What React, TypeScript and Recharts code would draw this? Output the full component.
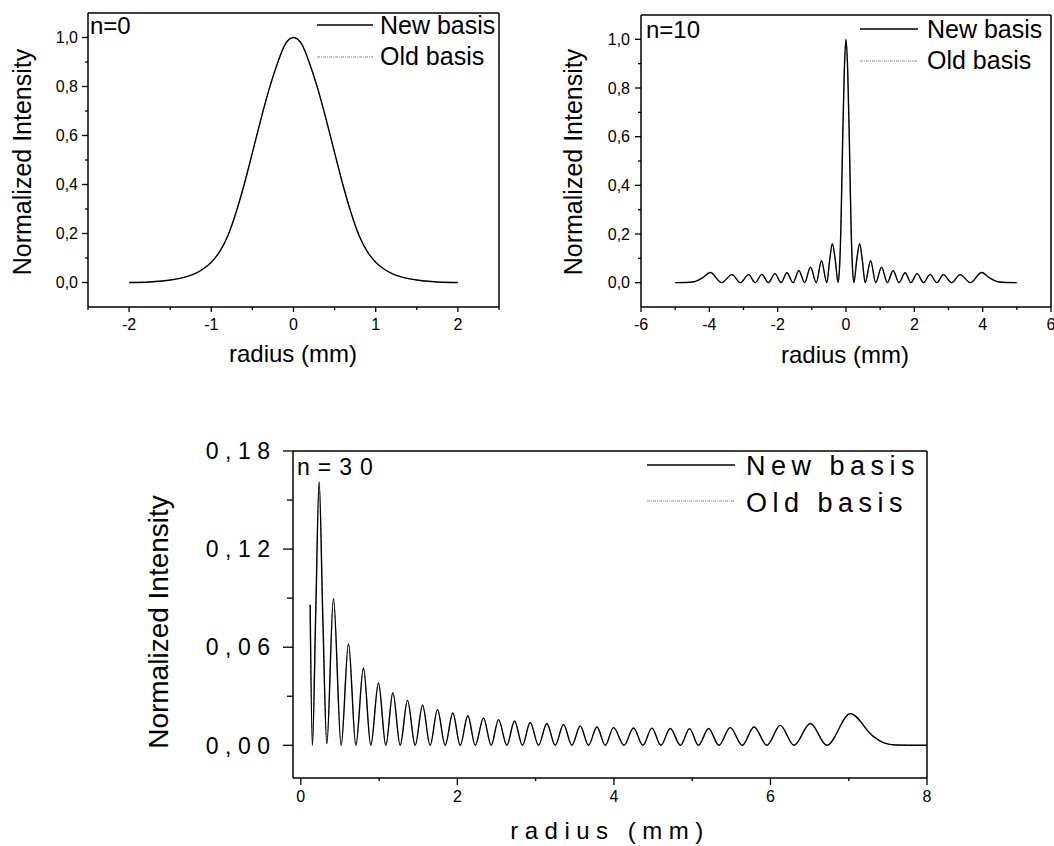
import { LineChart, Line, XAxis, YAxis, Legend, Label, ReferenceLine } from 'recharts';

const FONT = 'Arial, "Liberation Sans", Helvetica, sans-serif';

// n=0 : single bell-shaped peak
const radius0 = [-2, -1.75, -1.6, -1.5, -1.4, -1.3, -1.2, -1.1, -1.0, -0.9, -0.8, -0.7, -0.6, -0.5, -0.4, -0.3, -0.2, -0.1, 0, 0.1, 0.2, 0.3, 0.4, 0.5, 0.6, 0.7, 0.8, 0.9, 1.0, 1.1, 1.2, 1.3, 1.4, 1.5, 1.6, 1.75, 2];
const newBasis0 = [0, 0.002, 0.006, 0.01, 0.016, 0.024, 0.036, 0.055, 0.083, 0.125, 0.19, 0.285, 0.4, 0.53, 0.662, 0.785, 0.89, 0.973, 1.0, 0.973, 0.89, 0.785, 0.662, 0.53, 0.4, 0.285, 0.19, 0.125, 0.083, 0.055, 0.036, 0.024, 0.016, 0.01, 0.006, 0.002, 0];
const oldBasis0 = newBasis0; // the two curves coincide

// n=10 : peaks and zeros
const radius10 = [-5, -4.7, -4.45, -4.2, -3.97, -3.64, -3.34, -3.09, -2.85, -2.66, -2.46, -2.27, -2.08, -1.9, -1.73, -1.55, -1.38, -1.21, -1.04, -0.87, -0.72, -0.56, -0.48, -0.4, -0.32, -0.23, -0.19, -0.15, -0.1, -0.05, 0, 0.05, 0.1, 0.15, 0.19, 0.23, 0.32, 0.4, 0.48, 0.56, 0.72, 0.87, 1.04, 1.21, 1.38, 1.55, 1.73, 1.9, 2.08, 2.27, 2.46, 2.66, 2.85, 3.09, 3.34, 3.64, 3.97, 4.2, 4.45, 4.7, 5];
const newBasis10 = [0, 0.0005, 0.004, 0.02, 0.042, 0, 0.033, 0, 0.033, 0, 0.034, 0, 0.037, 0, 0.041, 0, 0.05, 0, 0.064, 0, 0.09, 0, 0.09, 0.16, 0.1, 0, 0.06, 0.22, 0.57, 0.87, 1.0, 0.87, 0.57, 0.22, 0.06, 0, 0.1, 0.16, 0.09, 0, 0.09, 0, 0.064, 0, 0.05, 0, 0.041, 0, 0.037, 0, 0.034, 0, 0.033, 0, 0.033, 0, 0.042, 0.02, 0.004, 0.0005, 0];
const oldBasis10 = newBasis10;

// n=30
const radius30 = [0.119, 0.148, 0.19, 0.234, 0.28, 0.332, 0.417, 0.515, 0.609, 0.703, 0.8, 0.894, 0.992, 1.086, 1.176, 1.269, 1.363, 1.461, 1.555, 1.652, 1.746, 1.844, 1.942, 2.036, 2.134, 2.228, 2.334, 2.432, 2.526, 2.632, 2.73, 2.832, 2.93, 3.037, 3.143, 3.25, 3.356, 3.463, 3.57, 3.675, 3.783, 3.889, 3.995, 4.13, 4.25, 4.37, 4.486, 4.6, 4.72, 4.85, 4.966, 5.08, 5.21, 5.34, 5.486, 5.64, 5.79, 5.955, 6.125, 6.3, 6.51, 6.72, 7.02, 7.3, 7.45, 7.6, 8.0];
const newBasis30 = [0.086, 0, 0.08, 0.161, 0.08, 0.001, 0.0897, 0, 0.0622, 0, 0.0473, 0, 0.0381, 0, 0.0322, 0, 0.0275, 0, 0.0245, 0, 0.0218, 0, 0.0198, 0, 0.0181, 0, 0.0167, 0, 0.0157, 0, 0.0149, 0, 0.0139, 0, 0.0133, 0, 0.0127, 0, 0.0118, 0, 0.0112, 0, 0.0108, 0, 0.0106, 0, 0.0105, 0, 0.0103, 0, 0.0102, 0, 0.0103, 0, 0.0108, 0, 0.0112, 0, 0.0122, 0, 0.0133, 0, 0.0194, 0.006, 0.0015, 0.0002, 0];
const oldBasis30 = newBasis30;

// ticks
const xMajor0 = [-2, -1, 0, 1, 2];
const xMinor0 = [-2.5, -1.5, -0.5, 0.5, 1.5, 2.5];
const xMajor10 = [-6, -4, -2, 0, 2, 4, 6];
const xMinor10 = [-5, -3, -1, 1, 3, 5];
const yMajorTop = [0, 0.2, 0.4, 0.6, 0.8, 1.0];
const yMinorTop = [0.1, 0.3, 0.5, 0.7, 0.9];
const xMajor30 = [0, 2, 4, 6, 8];
const xMinor30 = [1, 3, 5, 7];
const yMajor30 = [0, 0.06, 0.12, 0.18];
const yMinor30 = [0.03, 0.09, 0.15];

const isIn = (arr: number[], v: number) => arr.some((m) => Math.abs(m - v) < 1e-6);

type TickStyle = {
  major: number[];
  fmt: (v: number) => string;
  gap: number;
  majorLen: number;
  minorLen: number;
  fontSize: number;
  spacing?: number;
};

function leftTick(o: TickStyle) {
  return (props: any) => {
    const { x, y, payload } = props;
    const axisX = x + o.gap;
    const major = isIn(o.major, payload.value);
    return (
      <g>
        <line x1={axisX - (major ? o.majorLen : o.minorLen)} x2={axisX} y1={y} y2={y} stroke="#000" strokeWidth={1.3} />
        {major && (
          <text x={x + (o.spacing ?? 0)} y={y} dy="0.36em" textAnchor="end" fontSize={o.fontSize} letterSpacing={o.spacing ?? 0} fill="#000" fontFamily={FONT}>
            {o.fmt(payload.value)}
          </text>
        )}
      </g>
    );
  };
}

function bottomTick(o: TickStyle) {
  return (props: any) => {
    const { x, y, payload } = props;
    const axisY = y - o.gap;
    const major = isIn(o.major, payload.value);
    return (
      <g>
        <line x1={x} x2={x} y1={axisY} y2={axisY + (major ? o.majorLen : o.minorLen)} stroke="#000" strokeWidth={1.3} />
        {major && (
          <text x={x} y={y} dy="0.71em" textAnchor="middle" fontSize={o.fontSize} fill="#000" fontFamily={FONT}>
            {o.fmt(payload.value)}
          </text>
        )}
      </g>
    );
  };
}

type TextPos = { x: number; y: number; size: number; spacing?: number };

type PanelProps = {
  left: number;
  top: number;
  width: number;
  height: number;
  marginTop: number;
  marginRight: number;
  yAxisWidth: number;
  xAxisHeight: number;
  radius: number[];
  newBasis: number[];
  oldBasis: number[];
  xDomain: [number, number];
  yDomain: [number, number];
  xMajor: number[];
  xMinor: number[];
  yMajor: number[];
  yMinor: number[];
  xTick: TickStyle;
  yTick: TickStyle;
  yTitle: TextPos;
  xTitle: TextPos;
  tag: string;
  tagPos: TextPos;
  legendLine: [number, number];
  legendRows: number[];
  legendText: TextPos;
  legendBaselines: number[];
};

function Panel(p: PanelProps) {
  const data = p.radius.map((r, i) => ({ r, newBasis: p.newBasis[i], oldBasis: p.oldBasis[i] }));
  const frame = { stroke: '#000', strokeWidth: 1.5 };

  const renderLegend = ({ payload }: any) => {
    const items = [...(payload ?? [])].sort((a: any, b: any) => String(a.value).localeCompare(String(b.value)));
    return (
      <svg width={p.width} height={110} style={{ display: 'block', overflow: 'visible' }}>
        <text x={p.tagPos.x} y={p.tagPos.y} fontSize={p.tagPos.size} letterSpacing={p.tagPos.spacing ?? 0} fontFamily={FONT} fill="#000">
          {p.tag}
        </text>
        {items.map((it: any, i: number) => (
          <g key={it.value}>
            <line
              x1={p.legendLine[0]}
              x2={p.legendLine[1]}
              y1={p.legendRows[i]}
              y2={p.legendRows[i]}
              stroke={it.color}
              strokeWidth={it.payload?.strokeWidth ?? 1}
              strokeDasharray={it.payload?.strokeDasharray}
            />
            <text x={p.legendText.x} y={p.legendBaselines[i]} fontSize={p.legendText.size} letterSpacing={p.legendText.spacing ?? 0} fontFamily={FONT} fill="#000">
              {it.value}
            </text>
          </g>
        ))}
      </svg>
    );
  };

  return (
    <div style={{ position: 'absolute', left: p.left, top: p.top }}>
      <LineChart width={p.width} height={p.height} data={data} margin={{ top: p.marginTop, right: p.marginRight, bottom: 0, left: 0 }}>
        <XAxis
          dataKey="r"
          type="number"
          domain={p.xDomain}
          allowDataOverflow
          ticks={[...p.xMajor, ...p.xMinor]}
          interval={0}
          height={p.xAxisHeight}
          tickSize={0}
          tickMargin={p.xTick.gap}
          tickLine={false}
          axisLine={frame}
          tick={bottomTick(p.xTick)}
        >
          <Label
            content={() => (
              <text x={p.xTitle.x} y={p.xTitle.y} textAnchor="middle" fontSize={p.xTitle.size} letterSpacing={p.xTitle.spacing ?? 0} fontFamily={FONT} fill="#000">
                radius (mm)
              </text>
            )}
          />
        </XAxis>
        <YAxis
          type="number"
          domain={p.yDomain}
          allowDataOverflow
          ticks={[...p.yMajor, ...p.yMinor]}
          interval={0}
          width={p.yAxisWidth}
          tickSize={0}
          tickMargin={p.yTick.gap}
          tickLine={false}
          axisLine={frame}
          tick={leftTick(p.yTick)}
        >
          <Label
            content={() => (
              <text
                x={p.yTitle.x}
                y={p.yTitle.y}
                transform={`rotate(-90 ${p.yTitle.x} ${p.yTitle.y})`}
                textAnchor="middle"
                dominantBaseline="central"
                fontSize={p.yTitle.size}
                fontFamily={FONT}
                fill="#000"
              >
                Normalized Intensity
              </text>
            )}
          />
        </YAxis>
        {/* closing the box: top and right edges of the frame */}
        <ReferenceLine y={p.yDomain[1]} stroke="#000" strokeWidth={1.5} />
        <ReferenceLine x={p.xDomain[1]} stroke="#000" strokeWidth={1.5} />
        <Legend
          layout="horizontal"
          align="center"
          verticalAlign="middle"
          content={renderLegend}
          wrapperStyle={{ left: 0, top: 0, width: p.width, height: 110, pointerEvents: 'none' }}
        />
        <Line type="monotone" dataKey="oldBasis" name="Old basis" stroke="#8a8a8a" strokeWidth={1} strokeDasharray="3 1 1 1" dot={false} activeDot={false} isAnimationActive={false} />
        <Line type="monotone" dataKey="newBasis" name="New basis" stroke="#000" strokeWidth={1.4} dot={false} activeDot={false} isAnimationActive={false} />
      </LineChart>
    </div>
  );
}

const fmt1 = (v: number) => v.toFixed(1).replace('.', ',');
const fmt2 = (v: number) => v.toFixed(2).replace('.', ',');
const fmtInt = (v: number) => String(v);

export default function App() {
  return (
    <div style={{ position: 'absolute', left: 0, top: 0, width: 1054, height: 846, background: '#fff', fontFamily: FONT }}>
      <Panel
        left={0}
        top={0}
        width={520}
        height={380}
        marginTop={13}
        marginRight={21}
        yAxisWidth={88}
        xAxisHeight={73}
        radius={radius0}
        newBasis={newBasis0}
        oldBasis={oldBasis0}
        xDomain={[-2.5, 2.5]}
        yDomain={[-0.1, 1.1]}
        xMajor={xMajor0}
        xMinor={xMinor0}
        yMajor={yMajorTop}
        yMinor={yMinorTop}
        xTick={{ major: xMajor0, fmt: fmtInt, gap: 12, majorLen: 5, minorLen: 3, fontSize: 16 }}
        yTick={{ major: yMajorTop, fmt: fmt1, gap: 10, majorLen: 6, minorLen: 3, fontSize: 16 }}
        yTitle={{ x: 22, y: 162, size: 25 }}
        xTitle={{ x: 293, y: 362, size: 24 }}
        tag="n=0"
        tagPos={{ x: 90, y: 33.5, size: 24 }}
        legendLine={[317, 373]}
        legendRows={[25, 57]}
        legendText={{ x: 380, y: 0, size: 25 }}
        legendBaselines={[34, 65]}
      />
      <Panel
        left={540}
        top={0}
        width={514}
        height={380}
        marginTop={15}
        marginRight={3}
        yAxisWidth={101}
        xAxisHeight={73}
        radius={radius10}
        newBasis={newBasis10}
        oldBasis={oldBasis10}
        xDomain={[-6, 6]}
        yDomain={[-0.1, 1.1]}
        xMajor={xMajor10}
        xMinor={xMinor10}
        yMajor={yMajorTop}
        yMinor={yMinorTop}
        xTick={{ major: xMajor10, fmt: fmtInt, gap: 12, majorLen: 5, minorLen: 3, fontSize: 16 }}
        yTick={{ major: yMajorTop, fmt: fmt1, gap: 11, majorLen: 6, minorLen: 3, fontSize: 16 }}
        yTitle={{ x: 33, y: 162, size: 25 }}
        xTitle={{ x: 305, y: 363, size: 24 }}
        tag="n=10"
        tagPos={{ x: 106, y: 37.5, size: 24 }}
        legendLine={[320, 378]}
        legendRows={[29, 61]}
        legendText={{ x: 387, y: 0, size: 25 }}
        legendBaselines={[37.5, 69]}
      />
      <Panel
        left={140}
        top={420}
        width={820}
        height={426}
        marginTop={31}
        marginRight={33}
        yAxisWidth={153}
        xAxisHeight={68}
        radius={radius30}
        newBasis={newBasis30}
        oldBasis={oldBasis30}
        xDomain={[-0.1, 8]}
        yDomain={[-0.02, 0.18]}
        xMajor={xMajor30}
        xMinor={xMinor30}
        yMajor={yMajor30}
        yMinor={yMinor30}
        xTick={{ major: xMajor30, fmt: fmtInt, gap: 13, majorLen: 7, minorLen: 3, fontSize: 16 }}
        yTick={{ major: yMajor30, fmt: fmt2, gap: 23, majorLen: 10, minorLen: 6, fontSize: 23, spacing: 6.5 }}
        yTitle={{ x: 18, y: 202, size: 28 }}
        xTitle={{ x: 470, y: 419, size: 24, spacing: 6.5 }}
        tag="n=30"
        tagPos={{ x: 157, y: 55, size: 23, spacing: 8 }}
        legendLine={[507, 595]}
        legendRows={[45, 81]}
        legendText={{ x: 606, y: 0, size: 27, spacing: 5.5 }}
        legendBaselines={[55, 92]}
      />
    </div>
  );
}
